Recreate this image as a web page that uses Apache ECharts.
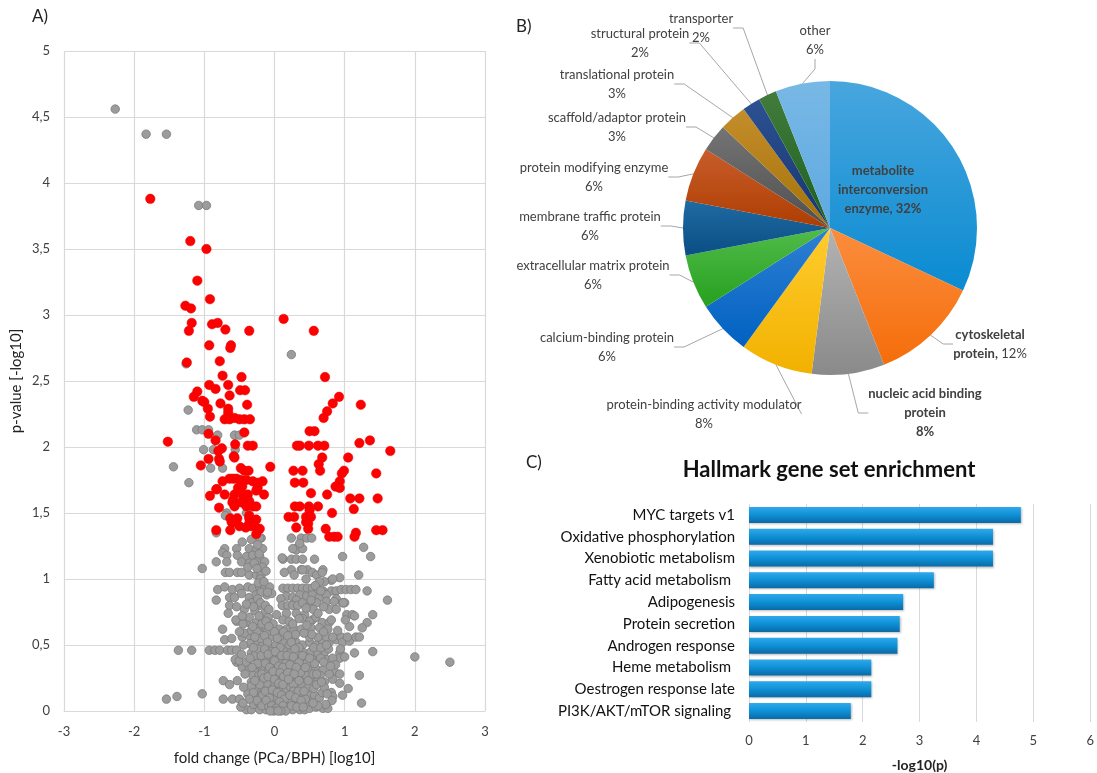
<!DOCTYPE html>
<html><head><meta charset="utf-8">
<script src="https://cdn.jsdelivr.net/npm/echarts@6/dist/echarts.min.js"></script>
<style>html,body{margin:0;padding:0;background:#fff}#c{width:1097px;height:773px}</style>
</head><body><div id="c"></div>
<script>
// ---------- Panel A: volcano plot ----------
const redPts = [
[-1.77,3.88],[-1.20,3.56],[-0.97,3.50],[-1.10,3.26],[-0.92,3.12],[-1.27,3.07],[-1.19,3.05],[0.13,2.97],[-1.18,2.94],[-0.89,2.93],[-0.81,2.94],[-0.70,2.89],[-0.36,2.88],[0.56,2.88],[-1.22,2.88],[-0.93,2.77],[-0.62,2.77],[-0.63,2.75],[-0.78,2.65],[-1.25,2.64],[-0.74,2.54],[-0.47,2.53],[0.72,2.53],
[-0.93,2.47],[-0.84,2.44],[-0.66,2.47],[-1.10,2.42],[-1.15,2.38],[-0.64,2.39],[-0.49,2.43],[-0.42,2.43],[0.92,2.38],[-1.03,2.35],[-1.00,2.34],[-0.77,2.33],[-0.39,2.32],[0.83,2.33],[1.23,2.32],[-0.95,2.29],[-0.66,2.29],[-0.66,2.26],[0.75,2.27],[-0.92,2.23],[-0.71,2.21],[-0.64,2.21],[-0.57,2.22],[-0.50,2.21],[-0.43,2.21],[-0.35,2.21],[0.70,2.22],[-0.94,2.10],[-0.43,2.11],[0.50,2.12],[0.57,2.12],[-1.52,2.04],[-0.84,2.05],[1.21,2.03],[1.36,2.05],[-0.56,2.02],[-0.38,2.01],[-0.31,2.01],[0.32,2.01],[0.36,2.01],[0.49,2.01],[0.62,2.01],[0.71,2.01],[-0.75,1.99],[1.65,1.97],[-0.80,1.97],[-0.79,1.91],[-0.78,1.89],[-0.58,1.93],[-0.57,1.92],[-0.94,1.91],[0.68,1.92],[1.05,1.92],[-1.05,1.86],[-0.48,1.84],[-0.43,1.82],[-0.37,1.82],[-0.06,1.85],[0.27,1.82],[0.40,1.82],[0.63,1.87],[0.65,1.82],[0.99,1.82],[0.96,1.80],[1.45,1.80],
[-0.64,1.76],[-0.59,1.76],[-0.54,1.76],[-0.48,1.75],[-0.40,1.75],[-0.31,1.74],[-0.17,1.74],[-0.24,1.73],[-0.74,1.74],[0.29,1.73],[0.41,1.73],[0.93,1.74],[0.87,1.70],[0.93,1.69],[-0.82,1.68],[-0.52,1.69],[-0.46,1.70],[-0.24,1.69],[-0.71,1.64],[-0.57,1.64],[-0.47,1.65],[-0.38,1.64],[-0.15,1.64],[-0.92,1.63],[-0.83,1.68],[-0.26,1.67],[0.52,1.65],[0.75,1.64],[1.08,1.61],[1.21,1.61],[1.47,1.61],[-0.59,1.60],[-0.45,1.60],[-0.36,1.59],[-0.60,1.58],[-0.47,1.58],[-0.57,1.55],[-0.40,1.55],[-0.31,1.55],[-0.26,1.55],[0.29,1.55],[0.36,1.55],[0.49,1.55],[0.62,1.55],[-0.79,1.54],[1.13,1.53],[0.50,1.52],[0.82,1.50],[-0.36,1.48],[-0.36,1.46],[-0.53,1.46],[-0.26,1.45],[-0.61,1.43],[-0.36,1.42],[0.20,1.47],[0.28,1.47],[0.45,1.47],[0.52,1.47],[-0.63,1.46],[-0.59,1.43],[0.45,1.43],[0.48,1.42],[-0.83,1.37],[-0.63,1.37],[-0.50,1.40],[-0.41,1.39],[-0.33,1.40],[-0.28,1.40],[-0.21,1.38],[-0.26,1.34],[0.31,1.39],[0.48,1.38],[0.73,1.38],[1.45,1.37],[1.54,1.37],[1.16,1.35],[0.78,1.32],[0.85,1.32],[0.90,1.32],[1.14,1.32]
];
const grayPts = [
[-2.27,4.56],[-1.83,4.37],[-1.54,4.37],[-1.08,3.83],[-0.97,3.83],[0.24,2.70],[-1.26,2.63],
[-1.23,2.28],[-1.11,2.13],[-1.03,2.13],[-0.94,2.13],[-0.81,2.09],[-0.57,2.09],[-0.50,2.09],[-1.01,1.98],[-0.87,1.98],[-0.56,1.98],[-1.44,1.85],[-0.91,1.84],[-0.74,1.84],[-1.22,1.73],[-0.68,1.50],[-0.40,1.50],[-0.70,1.48],[-0.83,1.35],
[-0.19,1.31],[-0.21,1.31],[-0.33,1.30],[-0.46,1.28],[-0.71,1.23],[-0.74,1.20],[-0.54,1.23],[-0.36,1.23],[-0.26,1.22],[-0.17,1.23],[-0.68,1.18],[-0.53,1.18],[-0.40,1.17],[-0.31,1.18],[-0.21,1.17],[-0.83,1.13],[-0.68,1.13],[-0.47,1.13],[-0.36,1.12],[-0.26,1.13],[-0.14,1.13],[-1.03,1.08],
[0.24,1.31],[0.38,1.31],[0.46,1.31],[0.53,1.31],[0.33,1.24],[0.31,1.22],[0.40,1.23],[0.26,1.23],[0.36,1.27],[0.12,1.15],[0.24,1.15],[0.31,1.15],[0.40,1.15],[0.57,1.15],[0.11,1.16],[0.24,1.07],[0.38,1.07],[0.47,1.07],[0.69,1.07],[0.97,1.17],[1.27,1.24],[1.37,1.17],
[-0.70,1.05],[-0.64,1.05],[-0.53,1.05],[-0.47,1.05],[-0.36,1.03],[-0.26,1.03],[-0.19,1.03],[-0.38,1.09],[-0.29,1.12],[-0.17,1.09],[0.14,1.05],[0.28,1.03],[0.40,1.07],[0.54,1.05],[0.60,1.03],[0.68,1.05],[0.81,0.99],[0.93,1.01],[0.71,0.98],[1.20,1.03],[0.45,1.00],[0.64,0.98],[0.83,1.00],
[-0.81,0.92],[-0.71,0.94],[-0.60,0.92],[-0.50,0.93],[-0.38,0.94],[-0.31,0.93],[-0.21,0.94],[-0.14,0.93],[-0.07,0.94],[0.12,0.93],[0.19,0.93],[0.26,0.93],[0.33,0.93],[0.40,0.93],[0.47,0.93],[0.54,0.93],[0.62,0.92],[0.69,0.91],[0.81,0.91],[0.88,0.91],[0.95,0.92],[1.02,0.92],[1.09,0.92],[1.16,0.92],[1.32,0.91],
[-0.83,0.84],[-0.64,0.86],[-0.57,0.86],[-0.47,0.89],[-0.36,0.86],[-0.26,0.88],[-0.11,0.88],[-0.04,0.89],[0.17,0.87],[0.26,0.86],[0.36,0.88],[0.46,0.87],[0.54,0.88],[0.64,0.86],[0.74,0.88],[0.88,0.85],[0.97,0.82],[0.74,0.83],[1.61,0.84],[1.00,0.82],[0.09,0.85],[0.31,0.84],
[-0.64,0.80],[-0.66,0.74],[-0.54,0.79],[-0.43,0.77],[-0.33,0.82],[-0.21,0.80],[-0.14,0.74],[-0.28,0.76],[0.11,0.80],[0.19,0.80],[0.26,0.80],[0.33,0.80],[0.40,0.82],[0.50,0.80],[0.60,0.82],[0.78,0.77],[0.85,0.83],[0.98,0.82],[1.03,0.73],[1.11,0.73],[1.40,0.73],[1.32,0.67],[0.88,0.77],[0.55,0.77],
[-0.74,0.62],[-0.54,0.68],[-0.40,0.67],[-0.26,0.67],[-0.17,0.69],[0.03,0.73],[0.17,0.74],[0.31,0.74],[0.43,0.73],[0.54,0.69],[0.68,0.67],[0.78,0.67],[1.07,0.64],[1.25,0.63],[-0.55,0.69],[-0.45,0.66],[-0.09,0.71],[0.12,0.69],[0.21,0.68],[0.40,0.70],[0.50,0.68],[0.59,0.71],[0.81,0.69],[1.01,0.69],[1.14,0.72],
[-0.71,0.54],[-0.61,0.55],[-0.46,0.56],[-0.36,0.57],[-0.43,0.59],[-0.33,0.61],[-0.21,0.63],[-0.12,0.62],[0.07,0.62],[0.17,0.62],[0.28,0.62],[0.38,0.62],[0.52,0.63],[0.64,0.63],[0.76,0.62],[-0.26,0.52],[-0.17,0.50],[-0.07,0.48],[0.02,0.50],[0.12,0.52],[0.21,0.50],[0.31,0.52],[0.40,0.50],[0.50,0.52],[0.59,0.50],[0.69,0.52],[0.78,0.52],[0.88,0.54],[0.95,0.56],[0.97,0.52],[1.07,0.53],[1.16,0.56],[1.21,0.56],[1.04,0.56],[-0.05,0.56],[0.07,0.56],[0.26,0.56],[0.50,0.56],[0.62,0.56],[0.74,0.56],[0.83,0.56],
[-1.37,0.46],[-1.18,0.46],[-0.93,0.46],[-0.85,0.46],[-0.78,0.46],[-0.67,0.46],[-0.61,0.46],[-0.54,0.46],[0.93,0.44],[0.93,0.40],[1.14,0.44],[1.40,0.45],[2.00,0.41],[2.50,0.37],
[-0.54,0.37],[-0.47,0.36],[-0.38,0.37],[-0.46,0.33],[-0.36,0.33],[-0.56,0.39],[-0.50,0.38],[-0.40,0.37],[-0.31,0.41],[-0.21,0.39],[-0.12,0.40],[-0.02,0.41],[0.07,0.40],[0.17,0.39],[0.26,0.40],[0.36,0.41],[0.45,0.40],[0.55,0.39],[0.64,0.41],[0.74,0.39],[0.83,0.40],
[-0.28,0.31],[-0.17,0.32],[-0.07,0.31],[0.02,0.34],[0.12,0.31],[0.21,0.32],[0.31,0.31],[0.40,0.34],[0.50,0.31],[0.59,0.32],[0.69,0.31],[0.85,0.30],[1.21,0.27],
[-0.73,0.23],[-0.64,0.20],[-0.53,0.23],[-0.33,0.22],[-0.24,0.23],[-0.12,0.24],[-0.05,0.22],[0.05,0.23],[0.14,0.22],[0.24,0.24],[0.33,0.23],[0.43,0.22],[0.52,0.24],[0.62,0.23],[0.71,0.22],[0.83,0.24],[0.93,0.21],[1.05,0.17],
[-1.54,0.09],[-1.39,0.11],[-1.03,0.13],[-0.73,0.09],[-0.60,0.09],[-0.50,0.09],[-0.38,0.13],[-0.28,0.12],[-0.19,0.14],[-0.09,0.13],[0.00,0.12],[0.09,0.14],[0.19,0.13],[0.28,0.12],[0.38,0.14],[0.47,0.13],[0.57,0.12],[0.64,0.10],[0.68,0.14],[0.81,0.14],[0.83,0.11],[1.24,0.06],[0.82,0.08],
[-0.40,0.01],[-0.33,0.01],[-0.21,0.01],[-0.12,0.01],[-0.05,0.02],[0.02,0.01],[0.07,0.02],[0.14,0.01],[0.21,0.02],[0.26,0.01],[0.36,0.01],[0.43,0.01],[0.50,0.02],[0.59,0.03],[0.69,0.02],[0.76,0.02],
[-0.30,0.05],[-0.22,0.06],[-0.14,0.05],[-0.06,0.07],[0.03,0.05],[0.11,0.06],[0.18,0.05],[0.25,0.07],[0.33,0.05],[0.41,0.06],[0.50,0.07],
[-0.26,0.17],[-0.17,0.18],[-0.08,0.17],[0.01,0.18],[0.08,0.19],[0.16,0.17],[0.23,0.18],[0.31,0.17],[0.39,0.19],[0.48,0.18],[0.56,0.17],
[-0.31,0.27],[-0.22,0.27],[-0.13,0.28],[-0.03,0.26],[0.06,0.27],[0.15,0.28],[0.24,0.27],[0.35,0.27],[0.45,0.27],[0.55,0.28],[0.65,0.27],
[-0.33,0.44],[-0.24,0.45],[-0.15,0.44],[-0.04,0.45],[0.05,0.44],[0.14,0.45],[0.23,0.44],[0.32,0.45],[0.42,0.44],[0.52,0.45],[0.62,0.44],[0.72,0.45],
[-0.02,0.08],[0.04,0.10],[0.10,0.03],[0.06,0.15],[-0.01,0.21],[0.11,0.24],[0.03,0.30],[0.09,0.36],[-0.10,0.35],[0.20,0.09],[0.16,0.36],[0.27,0.20],[-0.20,0.09],[-0.11,0.21],[0.33,0.09],[0.29,0.36],[0.37,0.29],[0.44,0.09],[0.46,0.36],[-0.23,0.35],[-0.28,0.42],[0.57,0.36],[0.60,0.20],[0.66,0.40],[0.71,0.18],[-0.35,0.51],[0.53,0.58],[0.35,0.48],[-0.10,0.60],[0.13,0.60],[0.30,0.58],[0.42,0.59],[-0.02,0.66],[0.26,0.66],[0.46,0.65],[0.70,0.60],[0.90,0.61],[0.94,0.47],[1.00,0.41],[0.77,0.47],[0.87,0.35],[0.78,0.28],[0.93,0.28],[0.97,0.12],[0.73,0.05],[0.62,0.04],
[-0.24,1.26],[-0.22,1.19],[-0.25,1.08],[-0.20,1.00],[-0.23,0.97],[-0.19,0.90],[-0.24,0.85],[-0.20,0.82],[-0.22,0.72],[-0.18,0.66],[-0.25,0.60],[-0.20,0.55],[-0.23,0.47],[-0.19,0.42],[-0.24,0.36],[-0.18,0.28],[-0.21,0.20],[-0.17,0.12],[-0.25,0.08],[-0.18,0.04],
[-0.12,1.06],[-0.15,0.98],[-0.10,0.90],[-0.13,0.80],[-0.08,0.77],[-0.12,0.68],[-0.08,0.64],[-0.14,0.57],[-0.10,0.52],[-0.14,0.47],[-0.09,0.43],[-0.13,0.36],[-0.07,0.33],[-0.15,0.25],[-0.09,0.26],[-0.13,0.15],[-0.07,0.10],[-0.12,0.08],[-0.08,0.03],
[0.00,0.60],[0.04,0.55],[0.08,0.48],[0.01,0.45],[0.10,0.42],[0.00,0.38],[0.06,0.34],[0.12,0.33],[-0.02,0.30],[0.08,0.29],[0.13,0.26],[0.00,0.24],[0.06,0.21],[0.12,0.20],[-0.03,0.16],[0.04,0.14],[0.10,0.12],[0.14,0.09],[-0.04,0.04],[0.07,0.07],[0.12,0.04],[0.02,0.02],[0.16,0.00],[0.09,0.00],[-0.01,0.00],[-0.06,0.00],[0.05,0.00],
[0.19,0.57],[0.24,0.52],[0.29,0.47],[0.18,0.42],[0.27,0.41],[0.35,0.37],[0.22,0.35],[0.31,0.33],[0.19,0.29],[0.28,0.28],[0.35,0.23],[0.20,0.24],[0.27,0.15],[0.34,0.15],[0.22,0.12],[0.30,0.10],[0.38,0.08],[0.24,0.04],[0.32,0.03],[0.41,0.03],[0.40,0.42],[0.44,0.33],[0.42,0.15],[0.48,0.23],[0.50,0.40],
[-0.33,0.19],[-0.30,0.14],[-0.36,0.09],[-0.32,0.33],[-0.28,0.23],[-0.35,0.40],[-0.30,0.48],[-0.28,0.56],[-0.31,0.64],[-0.36,0.71],[-0.30,0.79],[-0.40,0.81],[-0.46,0.72],[-0.50,0.60],[-0.44,0.50],[-0.47,0.43],[-0.42,0.28],[-0.44,0.18],[-0.48,0.03],[-0.45,0.06],
[0.56,0.48],[0.66,0.48],[0.74,0.50],[0.70,0.37],[0.60,0.28],[0.67,0.22],[0.75,0.13],[0.55,0.06],[0.80,0.34],[0.58,0.95],[0.66,0.91],[0.52,0.84],[0.70,0.79],[0.62,0.74],[0.45,0.78],[0.35,0.70]
];

// ---------- Panel B: pie ----------
const pieNames = ['metabolite interconversion enzyme','cytoskeletal protein','nucleic acid binding protein','protein-binding activity modulator','calcium-binding protein','extracellular matrix protein','membrane traffic protein','protein modifying enzyme','scaffold/adaptor protein','translational protein','structural protein','transporter','other'];
const pieValues = [32,12,8,8,6,6,6,6,3,3,2,2,6];

// ---------- Panel C: bar ----------
const barCategories = ['MYC targets v1','Oxidative phosphorylation','Xenobiotic metabolism','Fatty acid metabolism ','Adipogenesis','Protein secretion','Androgen response','Heme metabolism ','Oestrogen response late','PI3K/AKT/mTOR signaling '];
const barValues = [4.78,4.29,4.29,3.25,2.71,2.65,2.61,2.15,2.15,1.79];

// ---------- styling ----------
const FONT = 'Lato, "Open Sans", sans-serif';
const sliceColors = [
 ['#48a6de','#0a8bd1'],['#fb8d3e','#f56d0a'],['#b3b3b3','#8a8a8a'],['#ffcc2e','#f2b100'],
 ['#2f80d2','#0061c2'],['#50bb4a','#27a01f'],['#1f6ba2','#0a4e84'],['#c85d2c','#ae3d00'],
 ['#747474','#4f4f4f'],['#c48d2c','#a47206'],['#2c5192','#18356e'],['#427c3c','#1d5f1d'],['#78b8e6','#5ea9e0']
];
const labelPos = [[883,190],[990,344],[925,413],[704,414],[607,347],[593,275],[590,226],[594,177],[617,127],[617,84],[640,43],[701,28],[815,40]];

function grad(c){return new echarts.graphic.LinearGradient(0,0,0,1,[{offset:0,color:c[0]},{offset:1,color:c[1]}]);}

const pieData = pieNames.map((n,i)=>{
  const d = {name:n, value:pieValues[i], itemStyle:{color:grad(sliceColors[i])}};
  if(i===0){ d.label={position:'inside'}; d.labelLine={show:false}; }
  return d;
});

const chart = echarts.init(document.getElementById('c'), null, {renderer:'canvas'});
const axisTxt = {color:'#404040', fontSize:13, fontFamily:FONT};
const option = {
  animation:false,
  textStyle:{fontFamily:FONT},
  graphic:[
    {type:'text', left:32, top:8, style:{text:'A)', font:'17px '+FONT, fill:'#222'}},
    {type:'text', left:516, top:18, style:{text:'B)', font:'17px '+FONT, fill:'#222'}},
    {type:'text', left:526, top:454, style:{text:'C)', font:'17px '+FONT, fill:'#222'}},
    {type:'text', x:829, y:470, style:{text:'Hallmark gene set enrichment', font:'bold 22px '+FONT, fill:'#111', textAlign:'center', textVerticalAlign:'middle'}}
  ],
  grid:[
    {left:64, top:51, width:421, height:660},
    {left:749, top:504, width:344, height:220}
  ],
  xAxis:[
    {gridIndex:0, type:'value', min:-3, max:3, interval:1,
     axisLine:{show:true, lineStyle:{color:'#d9d9d9'}}, axisTick:{show:false},
     axisLabel:Object.assign({margin:14}, axisTxt),
     splitLine:{show:true, lineStyle:{color:'#d9d9d9', width:1.2}},
     name:'fold change (PCa/BPH) [log10]', nameLocation:'middle', nameGap:40,
     nameTextStyle:{color:'#222', fontSize:15, fontFamily:FONT}},
    {gridIndex:1, type:'value', min:0, max:6, interval:1,
     axisLine:{show:false}, axisTick:{show:false},
     axisLabel:Object.assign({margin:12}, axisTxt),
     splitLine:{show:true, lineStyle:{color:'#d9d9d9'}},
     name:'-log10(p)', nameLocation:'middle', nameGap:36,
     nameTextStyle:{color:'#222', fontSize:14, fontWeight:'bold', fontFamily:FONT}}
  ],
  yAxis:[
    {gridIndex:0, type:'value', min:0, max:5, interval:0.5,
     axisLine:{show:false}, axisTick:{show:false},
     axisLabel:Object.assign({margin:14, formatter:v=>String(v).replace('.',',')}, axisTxt),
     splitLine:{show:true, lineStyle:{color:'#d9d9d9', width:1.2}},
     name:'p-value [-log10]', nameLocation:'middle', nameGap:40, nameRotate:90,
     nameTextStyle:{color:'#222', fontSize:15, fontFamily:FONT}},
    {gridIndex:1, type:'category', data:barCategories, inverse:true,
     axisLine:{show:false}, axisTick:{show:false},
     axisLabel:{margin:14, color:'#111', fontSize:15, fontFamily:FONT}}
  ],
  series:[
    {type:'scatter', xAxisIndex:0, yAxisIndex:0, data:grayPts, symbolSize:8.5,
     itemStyle:{color:'#9c9c9c', borderColor:'#7b7b7b', borderWidth:0.8, opacity:1}, z:2},
    {type:'scatter', xAxisIndex:0, yAxisIndex:0, data:redPts, symbolSize:9.5,
     itemStyle:{color:'#ff0000', borderColor:'#e60000', borderWidth:0.5, opacity:1}, z:3},
    {type:'bar', xAxisIndex:1, yAxisIndex:1, data:barValues, barWidth:16,
     itemStyle:{color:new echarts.graphic.LinearGradient(0,0,0,1,[{offset:0,color:'#2fa9ea'},{offset:0.5,color:'#0e90d6'},{offset:1,color:'#0a6aa6'}]),
       shadowColor:'rgba(0,0,0,0.25)', shadowBlur:2, shadowOffsetX:1, shadowOffsetY:1}},
    {type:'pie', center:[830,228], radius:147, startAngle:90, clockwise:true,
     data:pieData,
     label:{show:true, position:'outside', color:'#404040', fontSize:13, lineHeight:19, fontFamily:FONT, align:'center',
       formatter:p=>{
         const i=p.dataIndex;
         if(i===0) return '{b|metabolite}\n{b|interconversion}\n{b|enzyme, '+p.value+'%}';
         if(i===1) return '{b|cytoskeletal}\n{b|protein,} '+p.value+'%';
         if(i===2) return '{b|nucleic acid binding}\n{b|protein}\n{b|'+p.value+'%}';
         return p.name+'\n'+p.value+'%';
       },
       rich:{b:{fontWeight:'bold', color:'#404040', fontSize:13, lineHeight:19, fontFamily:FONT}}},
     labelLine:{show:true, length:12, length2:10, lineStyle:{color:'#a6a6a6', width:1}},
     labelLayout:p=>{const q=labelPos[p.dataIndex]; return {x:q[0], y:q[1], align:'center', verticalAlign:'middle'};}
    }
  ]
};
chart.setOption(option);
</script>
</body></html>
